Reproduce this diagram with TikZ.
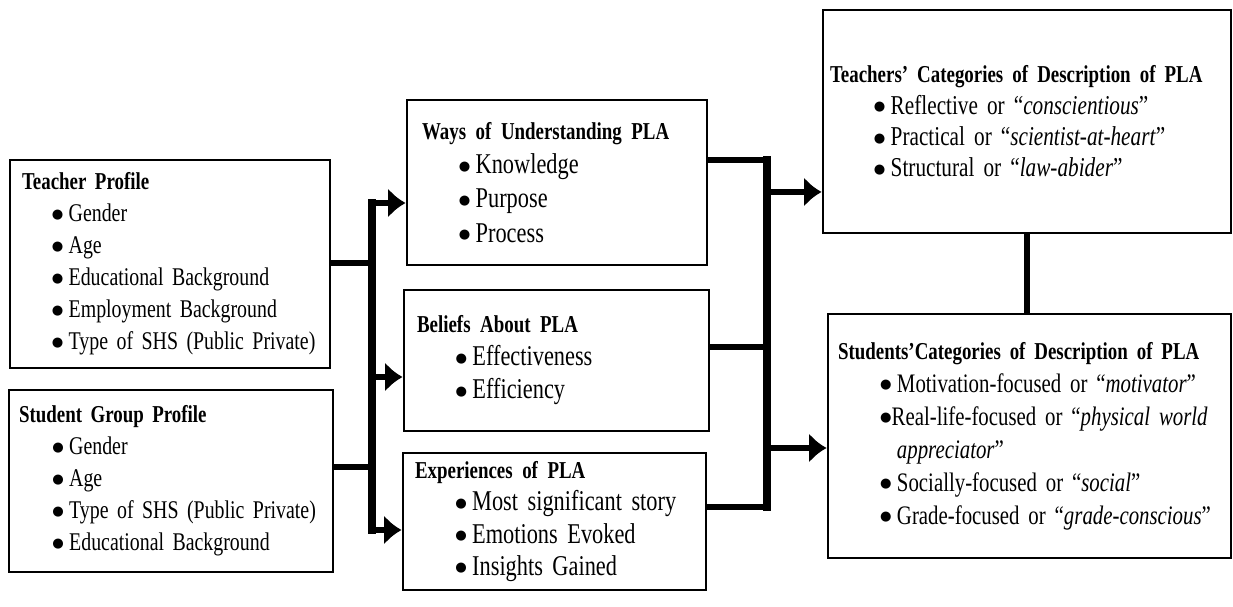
\documentclass[tikz,border=0pt]{standalone}
\usepackage{fontspec}
\setmainfont{Liberation Serif}[FakeStretch=0.78,WordSpace=0.7]
\newfontfamily\bulfont{DejaVu Sans}
\usetikzlibrary{arrows.meta,calc}
\hyphenpenalty=10000
\newcommand{\blt}{\raisebox{0.28ex}{\bulfont\fontsize{7.5}{7.5}\selectfont ●}}
\newcommand{\itm}[1][20pt]{\hspace*{#1}\blt\hspace{3pt}}
\newcommand{\hd}[1]{{\bfseries\fontsize{13.8}{18}\selectfont #1}}
\begin{document}
\begin{tikzpicture}[x=0.02cm,y=-0.02cm,
  box/.style={draw,line width=1.6pt,align=left,inner ysep=0.04cm,anchor=center},
  conn/.style={line width=3.2pt},
  bus/.style={line width=4.2pt,line cap=rect},
  arr/.style={line width=3.2pt,-{Latex[length=10pt,width=17pt]}}]
\useasboundingbox (0,0) rectangle (1233,607);

% left boxes
\node[box,minimum width=6.4cm,minimum height=4.16cm,inner xsep=0.24cm,text width=5.92cm,
  font=\fontsize{14.5}{18.2}\selectfont] (tp) at (170,264)
 {\hd{Teacher Profile}\\
  \itm[17pt]Gender\\
  \itm[17pt]Age\\
  \itm[17pt]Educational Background\\
  \itm[17pt]Employment Background\\
  \itm[17pt]Type of SHS (Public Private)};
\node[box,minimum width=6.48cm,minimum height=3.64cm,inner xsep=0.2cm,text width=6.08cm,
  font=\fontsize{14.5}{18.2}\selectfont] (sp) at (171,481)
 {\hd{Student Group Profile}\\
  \itm[19pt]Gender\\
  \itm[19pt]Age\\
  \itm[19pt]Type of SHS (Public Private)\\
  \itm[19pt]Educational Background};

% middle boxes
\node[box,minimum width=6.0cm,minimum height=3.3cm,inner xsep=0.3cm,text width=5.4cm,
  font=\fontsize{16.3}{19.4}\selectfont] (ways) at (557,182.5)
 {\hd{Ways of Understanding PLA}\\
  \itm[21pt]Knowledge\\
  \itm[21pt]Purpose\\
  \itm[21pt]Process};
\node[box,minimum width=6.1cm,minimum height=2.82cm,inner xsep=0.26cm,text width=5.58cm,
  font=\fontsize{16.3}{18.8}\selectfont] (bel) at (556.5,360.5)
 {\hd{Beliefs About PLA}\\
  \itm[22pt]Effectiveness\\
  \itm[22pt]Efficiency};
\node[box,minimum width=6.06cm,minimum height=2.74cm,inner xsep=0.24cm,text width=5.58cm,
  font=\fontsize{16.3}{18.3}\selectfont] (exp) at (554.5,521.5)
 {\hd{Experiences of PLA}\\
  \itm[23pt]Most significant story\\
  \itm[23pt]Emotions Evoked\\
  \itm[23pt]Insights Gained};

% right boxes
\node[box,minimum width=8.16cm,minimum height=4.46cm,inner xsep=0.14cm,text width=7.88cm,
  font=\fontsize{15.5}{17.8}\selectfont] (tc) at (1027,121.5)
 {\hd{Teachers’ Categories of Description of PLA}\\
  \itm[25pt]Reflective or “\textit{conscientious}”\\
  \itm[25pt]Practical or “\textit{scientist-at-heart}”\\
  \itm[25pt]Structural or “\textit{law-abider}”};
\node[box,minimum width=8.06cm,minimum height=4.88cm,inner xsep=0.2cm,text width=7.66cm,
  font=\fontsize{15.2}{18.8}\selectfont] (sc) at (1029.5,436)
 {\hd{Students’Categories of Description of PLA}\\
  \itm[24pt]Motivation-focused or “\textit{motivator}”\\
  \hspace*{24pt}\blt Real-life-focused or “\textit{physical world}\\
  \hspace*{24pt}\phantom{\blt}\hspace{3pt}\textit{appreciator}”\\
  \itm[24pt]Socially-focused or “\textit{social}”\\
  \itm[24pt]Grade-focused or “\textit{grade-conscious}”};

% left bus
\coordinate (lb1) at (372,203);
\coordinate (lbT) at (372,263);
\coordinate (lbB) at (372,377);
\coordinate (lbS) at (372,467);
\coordinate (lb2) at (372,530);
\draw[bus] (lb1) -- (lb2);
\draw[conn] (tp.east |- lbT) -- (lbT);
\draw[conn] (sp.east |- lbS) -- (lbS);
\draw[arr] (lb1) -- (lb1 -| ways.west);
\draw[arr] (lbB) -- (lbB -| bel.west);
\draw[arr] (lb2) -- (lb2 -| exp.west);

% right bus
\coordinate (rtop) at (767,160);
\coordinate (rT) at (767,192);
\coordinate (rB) at (767,347);
\coordinate (rS) at (767,448);
\coordinate (rE) at (767,507);
\draw[bus] (rtop) -- (rE);
\draw[conn] (ways.east |- rtop) -- (rtop);
\draw[conn] (bel.east |- rB) -- (rB);
\draw[conn] (exp.east |- rE) -- (rE);
\draw[arr] (rT) -- (rT -| tc.west);
\draw[arr] (rS) -- (rS -| sc.west);

% link between right boxes
\draw[conn] (tc.south) -- (tc.south |- sc.north);
\end{tikzpicture}
\end{document}
